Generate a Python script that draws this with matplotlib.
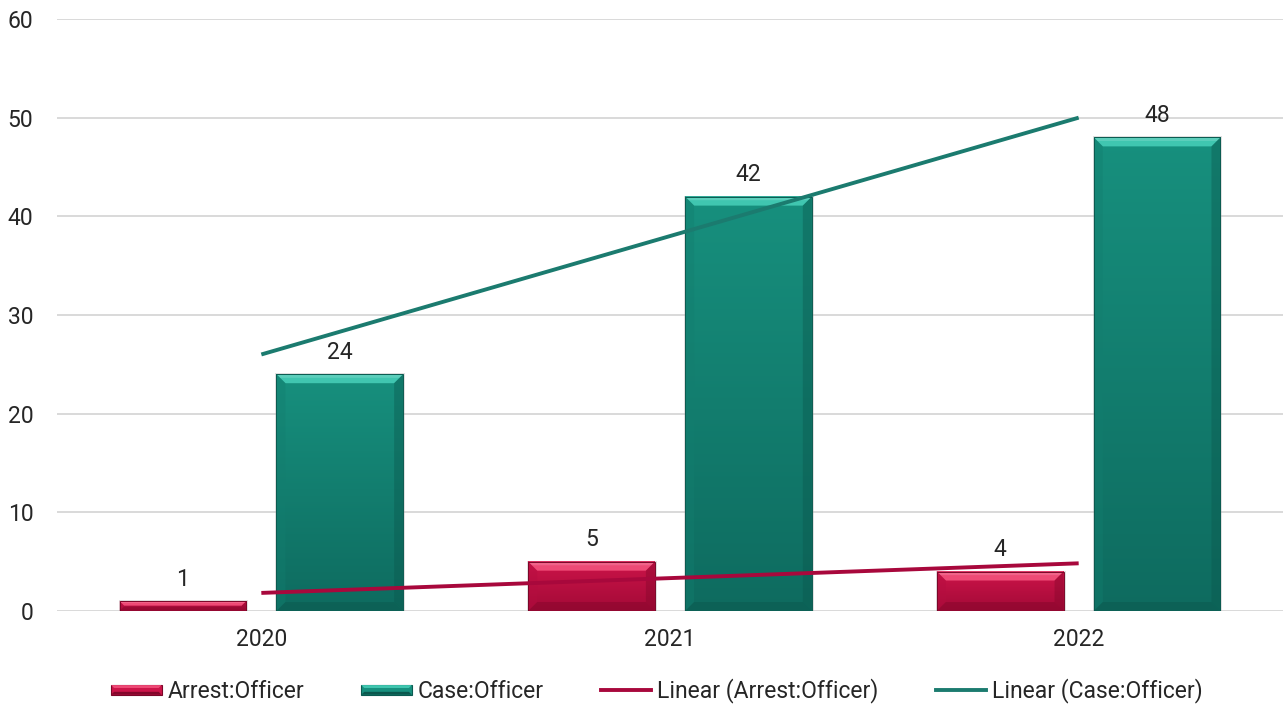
import numpy as np
import matplotlib
matplotlib.use('Agg')
import matplotlib.pyplot as plt
from matplotlib.patches import Polygon, Rectangle
from matplotlib.colors import LinearSegmentedColormap
from matplotlib.legend_handler import HandlerBase
from matplotlib.lines import Line2D

years = ['2020', '2021', '2022']
arrest = [1, 5, 4]
case = [24, 42, 48]
series_names = ['Arrest:Officer', 'Case:Officer']
trend_names = ['Linear (Arrest:Officer)', 'Linear (Case:Officer)']
yticks = [0, 10, 20, 30, 40, 50, 60]

plt.rcParams['font.family'] = ['Roboto', 'DejaVu Sans']
FS = 16.5

STYLES = {
    'arrest': dict(top='#ee4a76', b_top='#cc1449', b_bot='#a30a37', side='#b50d40',
                   bottom='#82062a', edge='#7a0628', trend='#a8083c'),
    'case': dict(top='#40c6b0', b_top='#17907e', b_bot='#0e6b5f', side='#137e6f',
                 bottom='#0a574d', edge='#0b5a50', trend='#1b7b6f'),
}

W_PX, H_PX = 1283, 706
fig = plt.figure(figsize=(W_PX / 100, H_PX / 100), dpi=100)
ax_l, ax_b, ax_w, ax_h = 57 / W_PX, 1 - 611 / H_PX, 1 - 57 / W_PX, (611 - 19) / H_PX
ax = fig.add_axes([ax_l, ax_b, ax_w, ax_h])
ax.set_xlim(-0.5, 2.5)
ax.set_ylim(0, 60)

px_x = 3.0 / (ax_w * W_PX)
px_y = 60.0 / (ax_h * H_PX)


def draw_bevel_bar(ax, x0, w, h, st):
    # soft shadow
    ax.add_patch(Rectangle((x0 - 1 * px_x, -1 * px_y), w + 3 * px_x, h + 2 * px_y,
                           facecolor='#9a9a9a', edgecolor='none', alpha=0.3, zorder=2))
    cmap = LinearSegmentedColormap.from_list('g', [st['b_bot'], st['b_top']])
    grad = np.linspace(0, 1, 256).reshape(-1, 1)
    ax.imshow(grad, extent=[x0, x0 + w, 0, h], origin='lower', cmap=cmap,
              aspect='auto', zorder=3, interpolation='bicubic')
    bpx = min(9.0, (h / px_y) / 2.2)
    bx, by = bpx * px_x, bpx * px_y
    x1 = x0 + w
    ax.add_patch(Polygon([(x0, h), (x1, h), (x1 - bx, h - by), (x0 + bx, h - by)],
                         closed=True, facecolor=st['top'], edgecolor='none', zorder=4))
    ax.add_patch(Polygon([(x0, h), (x1, h), (x1 - bx * 0.4, h - by * 0.4), (x0 + bx * 0.4, h - by * 0.4)],
                         closed=True, facecolor='white', alpha=0.15, edgecolor='none', zorder=4))
    ax.add_patch(Polygon([(x0, 0), (x0, h), (x0 + bx, h - by), (x0 + bx, by)],
                         closed=True, facecolor=st['side'], alpha=0.4, edgecolor='none', zorder=4))
    ax.add_patch(Polygon([(x1, 0), (x1, h), (x1 - bx, h - by), (x1 - bx, by)],
                         closed=True, facecolor=st['bottom'], alpha=0.4, edgecolor='none', zorder=4))
    ax.add_patch(Polygon([(x0, 0), (x1, 0), (x1 - bx, by), (x0 + bx, by)],
                         closed=True, facecolor=st['bottom'], alpha=0.45, edgecolor='none', zorder=4))
    ax.add_patch(Rectangle((x0, 0), w, h, facecolor='none', edgecolor=st['edge'],
                           linewidth=0.7, zorder=5))


x = np.arange(len(years))
bw = 0.31
off = 0.192
for xi, v in zip(x, arrest):
    draw_bevel_bar(ax, xi - off - bw / 2, bw, v, STYLES['arrest'])
    ax.annotate(str(v), (xi - off, v), xytext=(0, 11), textcoords='offset points',
                ha='center', va='baseline', fontsize=FS, color='#262626', zorder=7)
for xi, v in zip(x, case):
    draw_bevel_bar(ax, xi + off - bw / 2, bw, v, STYLES['case'])
    ax.annotate(str(v), (xi + off, v), xytext=(0, 11), textcoords='offset points',
                ha='center', va='baseline', fontsize=FS, color='#262626', zorder=7)

# linear trendlines
for vals, key in [(arrest, 'arrest'), (case, 'case')]:
    k, b = np.polyfit(x, vals, 1)
    ax.plot(x[[0, -1]], k * x[[0, -1]] + b, color=STYLES[key]['trend'], lw=2.8,
            zorder=6, solid_capstyle='butt')

ax.set_yticks(yticks)
ax.set_xticks(x)
ax.set_xticklabels(years)
ax.tick_params(axis='both', length=0, labelsize=FS, labelcolor='#262626')
ax.tick_params(axis='y', pad=17)
ax.tick_params(axis='x', pad=12)
ax.grid(axis='y', color='#d9d9d9', lw=1.4, zorder=0)
ax.set_axisbelow(True)
for s in ax.spines.values():
    s.set_visible(False)


class BevelHandler(HandlerBase):
    def __init__(self, st):
        super().__init__()
        self.st = st

    def create_artists(self, legend, orig_handle, xdescent, ydescent, width, height, fontsize, trans):
        st = self.st
        hh = height * 0.6
        y0 = -ydescent + (height - hh) / 2
        x0 = -xdescent
        b = hh * 0.3
        arts = [
            Rectangle((x0, y0), width, hh, facecolor=st['b_top'], edgecolor=st['edge'], lw=0.8, transform=trans),
            Polygon([(x0, y0 + hh), (x0 + width, y0 + hh), (x0 + width - b, y0 + hh - b), (x0 + b, y0 + hh - b)],
                    facecolor=st['top'], edgecolor='none', transform=trans),
            Polygon([(x0, y0), (x0 + width, y0), (x0 + width - b, y0 + b), (x0 + b, y0 + b)],
                    facecolor=st['bottom'], edgecolor='none', transform=trans),
        ]
        return arts


h1 = Rectangle((0, 0), 1, 1)
h2 = Rectangle((0, 0), 1, 1)
h3 = Line2D([], [], color=STYLES['arrest']['trend'], lw=2.8)
h4 = Line2D([], [], color=STYLES['case']['trend'], lw=2.8)
fig.legend([h1, h2, h3, h4], series_names + trend_names,
           handler_map={h1: BevelHandler(STYLES['arrest']), h2: BevelHandler(STYLES['case'])},
           loc='center', bbox_to_anchor=(0.512, 1 - 691 / H_PX), ncol=4, frameon=False,
           fontsize=FS, handlelength=2.2, handletextpad=0.25, columnspacing=2.5,
           labelcolor='#262626')

fig.savefig('out.png', dpi=100)
